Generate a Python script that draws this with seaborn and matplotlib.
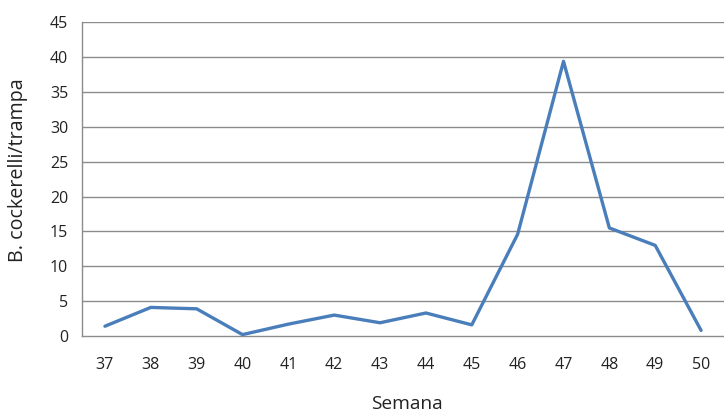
import matplotlib
matplotlib.use("Agg")
import matplotlib.pyplot as plt
import seaborn as sns
import pandas as pd
import numpy as np

semanas = [37, 38, 39, 40, 41, 42, 43, 44, 45, 46, 47, 48, 49, 50]
capturas = [1.4, 4.1, 3.9, 0.2, 1.7, 3.0, 1.9, 3.3, 1.6, 14.6, 39.4, 15.5, 13.0, 0.8]
y_ticks = [0, 5, 10, 15, 20, 25, 30, 35, 40, 45]

sns.set_style("white")
plt.rcParams["font.family"] = ["Open Sans", "DejaVu Sans"]

df = pd.DataFrame({"Semana": semanas, "valor": capturas})

fig = plt.figure(figsize=(7.24, 4.13), dpi=100)
ax = fig.add_axes([82 / 724, 77 / 413, 642 / 724, 313.7 / 413])

grid_c = "#8c8c8c"
text_c = "#222222"
for v in y_ticks[1:]:
    ax.axhline(v, color=grid_c, lw=1.0, zorder=1)

sns.lineplot(data=df, x="Semana", y="valor", ax=ax, color="#4A7EBB",
             linewidth=2.4, zorder=3)

ax.set_xlim(semanas[0] - 0.5, semanas[-1] + 0.5)
ax.set_ylim(0, 45)
ax.set_yticks(y_ticks)
ax.set_xticks(semanas)
ax.set_xticklabels([str(s) for s in semanas])
ax.set_xticks(np.arange(semanas[0] - 0.5, semanas[-1] + 0.6, 1), minor=True)

for side in ["top", "right"]:
    ax.spines[side].set_visible(False)
for side in ["left", "bottom"]:
    ax.spines[side].set_color(grid_c)
    ax.spines[side].set_linewidth(1.0)

ax.tick_params(axis="x", which="major", length=0, pad=15, labelsize=11.5, colors=text_c)
ax.tick_params(axis="x", which="minor", length=5, width=1.0, color=grid_c, direction="out")
ax.tick_params(axis="y", which="major", length=5, width=1.0, color=grid_c, direction="out",
               pad=5, labelsize=11.5, labelcolor=text_c)

ax.set_xlabel("Semana", fontsize=13.8, color=text_c)
ax.set_ylabel("B. cockerelli/trampa", fontsize=14.2, color=text_c)
ax.xaxis.set_label_coords(407 / 724, 0, transform=fig.transFigure)
ax.yaxis.set_label_coords(18 / 724, (413 - 170) / 413, transform=fig.transFigure)
ax.xaxis.label.set_va("center")
ax.xaxis.label.set_position((407 / 724, (413 - 404) / 413))
ax.yaxis.label.set_va("center")

fig.savefig("out.png", dpi=100)
